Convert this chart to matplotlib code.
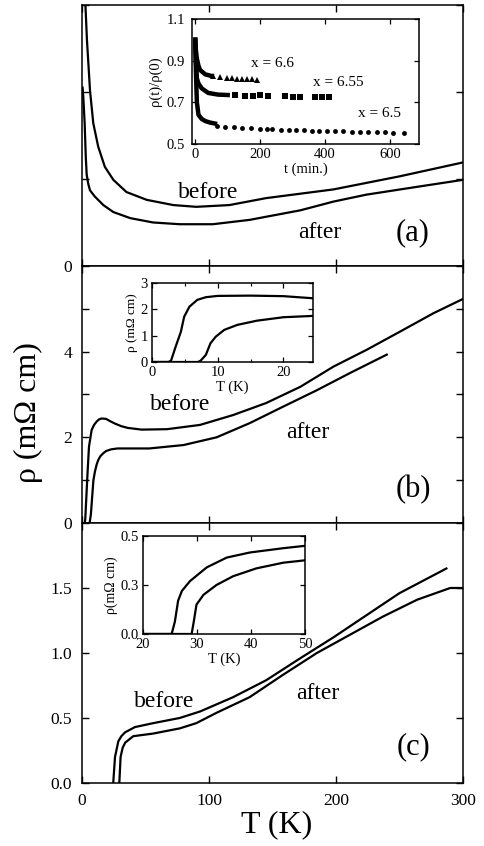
import matplotlib
matplotlib.use("Agg")
import matplotlib.pyplot as plt

plt.rcParams["font.family"] = ["Liberation Serif", "DejaVu Serif"]

# =========================================================
# Data
# =========================================================
# panel (a)
T_a_before = [2.4, 3.9, 6.3, 8.9, 12.8, 18, 24.7, 35, 51, 72, 90, 116, 145, 198, 250, 300]
rho_a_before = [3.1, 2.6, 2.02, 1.64, 1.37, 1.14, 0.99, 0.85, 0.76, 0.70, 0.68, 0.70, 0.78, 0.88, 1.03, 1.19]
T_a_after = [0.5, 1.0, 2.1, 3.0, 3.7, 5.0, 6.3, 10, 16.8, 24.7, 38, 56, 77, 103, 132, 172, 198, 224, 264, 300]
rho_a_after = [2.05, 1.95, 1.64, 1.25, 1.05, 0.94, 0.87, 0.80, 0.70, 0.62, 0.55, 0.50, 0.48, 0.48, 0.53, 0.64, 0.74, 0.82, 0.91, 0.99]

# inset (a): relaxation rho(t)/rho(0)
t_66_early = [0, 2, 5, 10, 15, 31, 51]
r_66_early = [1.0, 0.95, 0.91, 0.875, 0.855, 0.834, 0.826]
t_66 = [55, 77, 98, 113, 129, 144, 160, 175, 190]
r_66 = [0.826, 0.822, 0.818, 0.815, 0.813, 0.812, 0.81, 0.81, 0.808]

t_655_early = [0, 2, 5, 10, 20, 40, 70, 100]
r_655_early = [1.0, 0.9, 0.815, 0.79, 0.767, 0.745, 0.737, 0.735]
t_655 = [123, 153, 178, 199, 224, 276, 301, 322, 368, 390, 414]
r_655 = [0.733, 0.731, 0.73, 0.733, 0.73, 0.728, 0.727, 0.727, 0.725, 0.725, 0.725]

t_65_early = [0, 2, 5, 10, 20, 31, 45, 61]
r_65_early = [1.0, 0.85, 0.70, 0.64, 0.62, 0.61, 0.603, 0.598]
t_65 = [66, 92, 118, 145, 172, 200, 222, 238, 263, 288, 312, 335, 360, 383,
        406, 432, 457, 483, 508, 534, 559, 585, 610, 644]
r_65 = [0.588, 0.583, 0.58, 0.577, 0.575, 0.572, 0.57, 0.57, 0.568, 0.567, 0.566, 0.565,
        0.564, 0.563, 0.562, 0.561, 0.56, 0.559, 0.558, 0.557, 0.556, 0.556, 0.555, 0.555]

# panel (b)
T_b_before = [2.2, 2.6, 3.2, 4.5, 5.5, 7.6, 9.5, 11.6, 13.5, 15.5, 19, 22, 26, 31, 36, 47, 67, 93,
              119, 145, 172, 198, 224, 250, 277, 300]
rho_b_before = [0, 0.1, 0.47, 1.24, 1.78, 2.17, 2.29, 2.37, 2.42, 2.44, 2.43, 2.38, 2.32, 2.26, 2.22,
                2.18, 2.19, 2.29, 2.52, 2.8, 3.18, 3.65, 4.04, 4.46, 4.9, 5.23]
T_b_after = [6.0, 7.0, 8, 9, 10.2, 11.5, 12.8, 14.5, 16.8, 19, 23, 28, 53, 80, 106, 132, 158, 185, 211, 240]
rho_b_after = [0, 0.2, 0.6, 1.0, 1.2, 1.36, 1.47, 1.56, 1.63, 1.68, 1.72, 1.74, 1.74, 1.82, 2.0, 2.33,
               2.71, 3.1, 3.5, 3.93]

# inset (b)
T_bi_before = [0, 2.5, 2.9, 3.6, 4.4, 4.9, 5.7, 6.9, 8.2, 10, 15, 20, 24.5]
rho_bi_before = [0, 0, 0.05, 0.58, 1.15, 1.72, 2.1, 2.36, 2.46, 2.51, 2.52, 2.5, 2.42]
T_bi_after = [0, 7.0, 7.4, 8.2, 8.9, 9.7, 11, 13, 16, 20, 24.5]
rho_bi_after = [0, 0, 0.05, 0.27, 0.71, 0.96, 1.22, 1.41, 1.57, 1.7, 1.75]

# panel (c)
T_c_before = [24.6, 26, 28.6, 31, 34, 41.7, 56, 77, 93, 119, 145, 172, 198, 224, 250, 287]
rho_c_before = [0, 0.2, 0.32, 0.36, 0.39, 0.43, 0.46, 0.5, 0.55, 0.66, 0.79, 0.96, 1.12, 1.29, 1.46, 1.65]
T_c_after = [29.4, 30.4, 32, 34, 40.4, 56, 77, 90, 106, 132, 158, 185, 211, 237, 264, 290, 300]
rho_c_after = [0, 0.2, 0.27, 0.31, 0.36, 0.38, 0.42, 0.46, 0.54, 0.66, 0.83, 1.0, 1.14, 1.28, 1.41, 1.5, 1.5]

# inset (c)
T_ci_before = [20, 25.3, 25.9, 26.5, 27.2, 28.7, 31.8, 35.5, 39.8, 46, 50]
rho_ci_before = [0, 0, 0.063, 0.17, 0.22, 0.27, 0.34, 0.39, 0.416, 0.438, 0.45]
T_ci_after = [20, 29, 29.4, 29.9, 31.2, 33.6, 36.7, 41, 46, 50]
rho_ci_after = [0, 0, 0.063, 0.15, 0.2, 0.25, 0.295, 0.335, 0.364, 0.376]

LW = 1.6
MAIN_FS = 12.5
INSET_FS = 10.5


def style_main(ax):
    ax.tick_params(direction="in", length=5, width=1.0, top=True, right=True,
                   labelsize=MAIN_FS, pad=7)
    for s in ax.spines.values():
        s.set_linewidth(1.1)


def style_inset(ax):
    ax.tick_params(direction="in", length=3.5, width=0.9, top=True, right=True,
                   labelsize=INSET_FS, pad=3)
    ax.tick_params(which="minor", direction="in", length=2.5, width=0.8, top=True, right=True)
    for s in ax.spines.values():
        s.set_linewidth(1.1)


fig = plt.figure(figsize=(4.84, 8.46), dpi=100)

L, W = 0.1694, 0.787
ax_a = fig.add_axes([L, 0.6856, W, 0.3085])
ax_b = fig.add_axes([L, 0.3818, W, 0.3038])
ax_c = fig.add_axes([L, 0.0745, W, 0.3073])

# ---------- panel (a)
ax_a.plot(T_a_before, rho_a_before, "k-", lw=LW)
ax_a.plot(T_a_after, rho_a_after, "k-", lw=LW)
ax_a.set_xlim(0, 300)
ax_a.set_ylim(0, 3)
ax_a.set_xticks([0, 100, 200, 300])
ax_a.set_xticklabels([])
ax_a.set_yticks([0, 1, 2, 3])
ax_a.set_yticklabels(["0", "", "", ""])
style_main(ax_a)
ax_a.text(99, 0.84, "before", fontsize=17, ha="center", va="center")
ax_a.text(187, 0.38, "after", fontsize=17, ha="center", va="center")
ax_a.text(260, 0.38, "(a)", fontsize=22, ha="center", va="center")

# ---------- panel (b)
ax_b.plot(T_b_before, rho_b_before, "k-", lw=LW)
ax_b.plot(T_b_after, rho_b_after, "k-", lw=LW)
ax_b.set_xlim(0, 300)
ax_b.set_ylim(0, 6)
ax_b.set_xticks([0, 100, 200, 300])
ax_b.set_xticklabels([])
ax_b.set_yticks([0, 1, 2, 3, 4, 5, 6])
ax_b.set_yticklabels(["0", "", "2", "", "4", "", ""])
style_main(ax_b)
ax_b.text(77, 2.76, "before", fontsize=17, ha="center", va="center")
ax_b.text(178, 2.11, "after", fontsize=17, ha="center", va="center")
ax_b.text(261, 0.77, "(b)", fontsize=22, ha="center", va="center")

# ---------- panel (c)
ax_c.plot(T_c_before, rho_c_before, "k-", lw=LW)
ax_c.plot(T_c_after, rho_c_after, "k-", lw=LW)
ax_c.set_xlim(0, 300)
ax_c.set_ylim(0, 2)
ax_c.set_xticks([0, 100, 200, 300])
ax_c.set_yticks([0, 0.5, 1.0, 1.5, 2.0])
ax_c.set_yticklabels(["0.0", "0.5", "1.0", "1.5", ""])
style_main(ax_c)
ax_c.text(65, 0.625, "before", fontsize=17, ha="center", va="center")
ax_c.text(186, 0.69, "after", fontsize=17, ha="center", va="center")
ax_c.text(261, 0.28, "(c)", fontsize=22, ha="center", va="center")

fig.text(0.058, 0.512, "ρ (mΩ cm)", rotation=90, fontsize=23, ha="center", va="center")
fig.text(0.572, 0.025, "T (K)", fontsize=23, ha="center", va="center")

# ---------- inset (a)
ia = fig.add_axes([0.3967, 0.8298, 0.469, 0.1478])
ia.plot(t_66_early, r_66_early, "k-", lw=3.2)
ia.plot(t_66, r_66, "k^", ms=4.2, mew=0)
ia.plot(t_655_early, r_655_early, "k-", lw=3.2)
ia.plot(t_655, r_655, "ks", ms=3.8, mew=0)
ia.plot(t_65_early, r_65_early, "k-", lw=3.2)
ia.plot(t_65, r_65, "ko", ms=3.5, mew=0)
ia.set_xlim(-10, 690)
ia.set_ylim(0.5, 1.1)
ia.set_xticks([0, 200, 400, 600])
ia.set_yticks([0.5, 0.7, 0.9, 1.1])
ia.set_yticklabels(["0.5", "0.7", "0.9", "1.1"])
style_inset(ia)
ia.tick_params(pad=5, axis="y")
ia.set_xlabel("t (min.)", fontsize=INSET_FS, labelpad=1)
ia.set_ylabel("ρ(t)/ρ(0)", fontsize=INSET_FS, labelpad=3)
ia.text(239, 0.888, "x = 6.6", fontsize=11, ha="center", va="center")
ia.text(442, 0.797, "x = 6.55", fontsize=11, ha="center", va="center")
ia.text(567, 0.648, "x = 6.5", fontsize=11, ha="center", va="center")

# ---------- inset (b)
ib = fig.add_axes([0.314, 0.5721, 0.3326, 0.0934])
ib.plot(T_bi_before, rho_bi_before, "k-", lw=LW)
ib.plot(T_bi_after, rho_bi_after, "k-", lw=LW)
ib.set_xlim(0, 24.5)
ib.set_ylim(0, 3)
ib.set_xticks([0, 10, 20])
ib.set_xticks([5, 15], minor=True)
ib.set_yticks([0, 1, 2, 3])
style_inset(ib)
ib.set_xlabel("T (K)", fontsize=INSET_FS, labelpad=1)
ib.set_ylabel("ρ (mΩ cm)", fontsize=9.5, labelpad=2)

# ---------- inset (c)
ic = fig.add_axes([0.2955, 0.2506, 0.3347, 0.1158])
ic.plot(T_ci_before, rho_ci_before, "k-", lw=LW)
ic.plot(T_ci_after, rho_ci_after, "k-", lw=LW)
ic.set_xlim(20, 50)
ic.set_ylim(0, 0.5)
ic.set_xticks([20, 30, 40, 50])
ic.set_yticks([0, 0.25, 0.5])
ic.set_yticklabels(["0.0", "0.3", "0.5"])
style_inset(ic)
ic.set_xlabel("T (K)", fontsize=INSET_FS, labelpad=1)
ic.set_ylabel("ρ(mΩ cm)", fontsize=10, labelpad=2)

fig.savefig("out.png", dpi=100)
